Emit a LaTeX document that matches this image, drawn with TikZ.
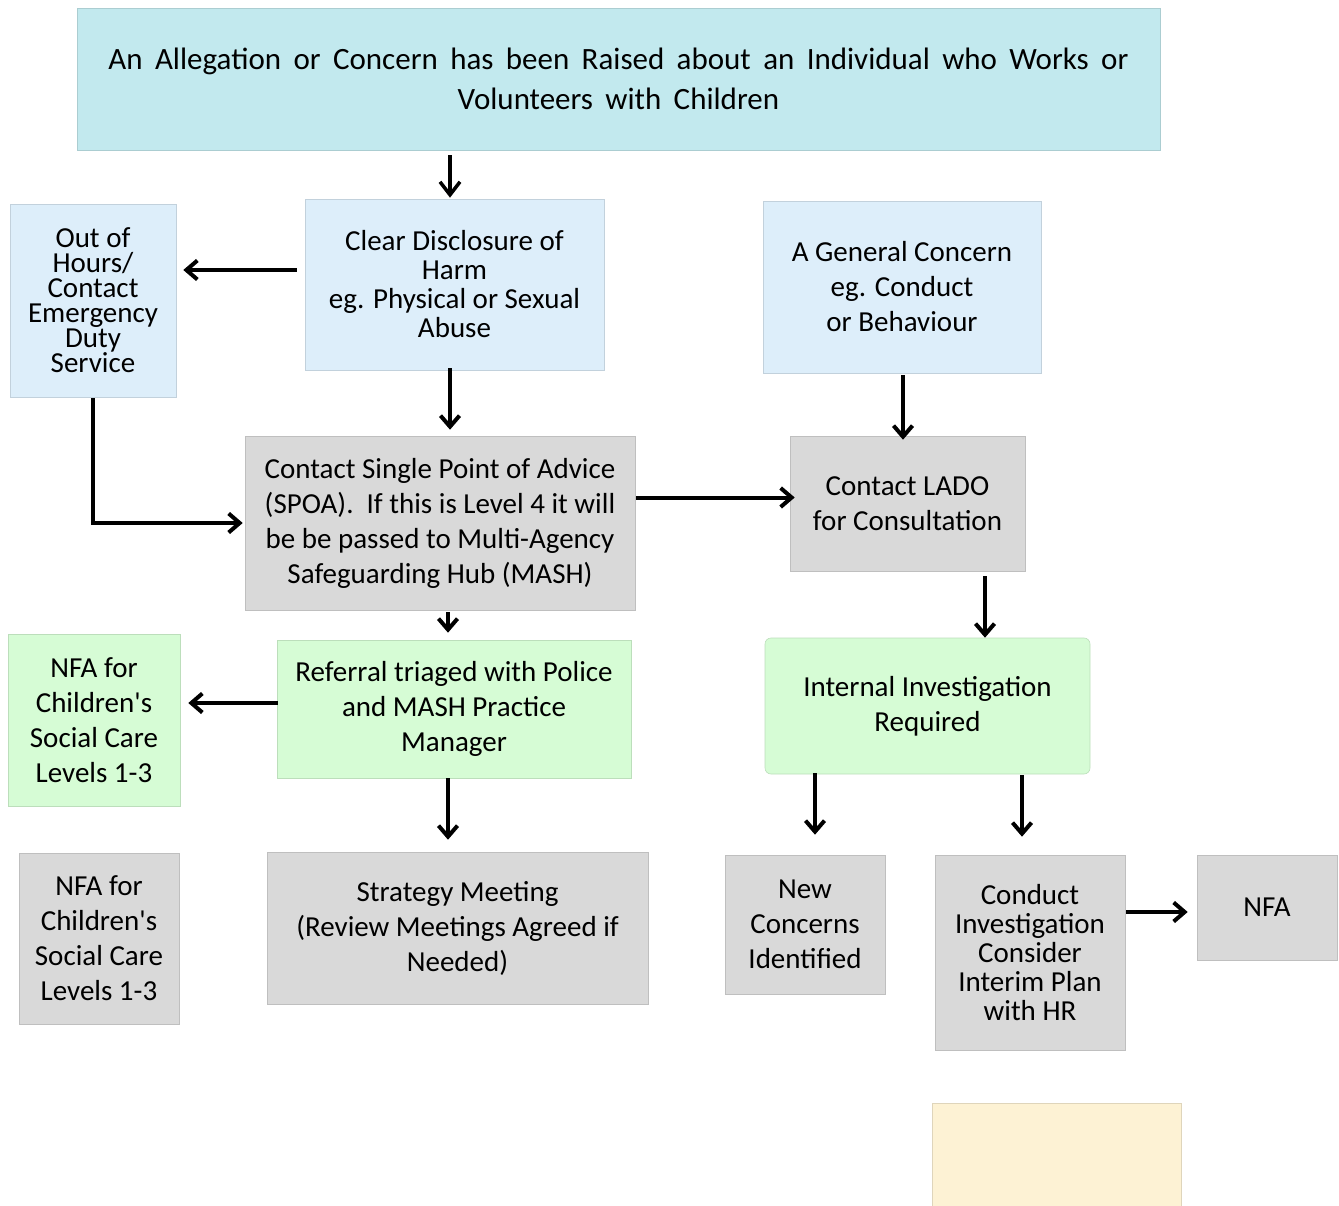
\documentclass[tikz,border=0pt]{standalone}
\usepackage{fontspec}
\setmainfont{Carlito}[Ligatures=TeXOff]
\usetikzlibrary{arrows.meta}
\definecolor{topc}{HTML}{C2E9EE}
\definecolor{bluec}{HTML}{DDEEFA}
\definecolor{grayc}{HTML}{D9D9D9}
\definecolor{greenc}{HTML}{D6FCD5}
\definecolor{yellowc}{HTML}{FDF2D4}
\newcommand\fsA{\fontsize{29}{35}\selectfont}
\newcommand\fsB{\fontsize{29}{29}\selectfont}
\newcommand\fsC{\fontsize{29}{25}\selectfont}
\newcommand\fsT{\fontsize{31}{40}\selectfont\spaceskip=0.40em\relax}
\tikzset{
  box/.style={draw=#1!88!black, fill=#1, line width=0.6pt, inner sep=0pt,
    align=center, font=\fsA, text=black},
  arr/.style={line width=4pt, -{Straight Barb[length=11pt,width=19pt]}},
  arrT/.style={line width=3.5pt, -{Straight Barb[length=13pt,width=20pt]}},
}
\begin{document}
\begin{tikzpicture}[x=1pt,y=-1pt]
\useasboundingbox (0,0) rectangle (1339,1206);
% boxes
\node[box=topc, minimum width=1083pt, minimum height=142pt, font=\fsT] (top) at (618.5,79)
  {An Allegation or Concern has been Raised about an Individual who Works or\\Volunteers with Children};
\node[box=bluec, minimum width=299pt, minimum height=171pt, font=\fsB] (clear) at (454.5,284.5)
  {Clear Disclosure of\\Harm\\eg. Physical or Sexual\\Abuse};
\node[box=bluec, minimum width=166pt, minimum height=193pt, font=\fsC] (ooh) at (93,300.5)
  {Out of\\Hours/\\Contact\\Emergency\\Duty\\Service};
\node[box=bluec, minimum width=278pt, minimum height=172pt] (gen) at (902,287)
  {A General Concern\\eg. Conduct\\or Behaviour};
\node[box=grayc, minimum width=390pt, minimum height=174pt] (spoa) at (440,523)
  {Contact Single Point of Advice\\(SPOA).\ \ If this is Level 4 it will\\be be passed to Multi-Agency\\Safeguarding Hub (MASH)};
\node[box=grayc, minimum width=235pt, minimum height=135pt] (lado) at (907.5,503.5)
  {Contact LADO\\for Consultation};
\node[box=greenc, minimum width=172pt, minimum height=172pt] (nfag) at (94,720)
  {NFA for\\Children's\\Social Care\\Levels 1-3};
\node[box=greenc, minimum width=354pt, minimum height=138pt] (ref) at (454,709)
  {Referral triaged with Police\\and MASH Practice\\Manager};
\node[box=greenc, rounded corners=6pt, minimum width=325pt, minimum height=136pt] (intl) at (927.5,706)
  {Internal Investigation\\Required};
\node[box=grayc, minimum width=160pt, minimum height=171pt] (nfagr) at (99,938.5)
  {NFA for\\Children's\\Social Care\\Levels 1-3};
\node[box=grayc, minimum width=381pt, minimum height=152pt] (strat) at (457.5,928)
  {Strategy Meeting\\(Review Meetings Agreed if\\Needed)};
\node[box=grayc, minimum width=160pt, minimum height=139pt] (newc) at (805,924.5)
  {New\\Concerns\\Identified};
\node[box=grayc, minimum width=190pt, minimum height=195pt, font=\fsB] (cond) at (1030,952.5)
  {Conduct\\Investigation\\Consider\\Interim Plan\\with HR};
\node[box=grayc, minimum width=140pt, minimum height=105pt] (nfa) at (1267,907.5) {NFA};
\node[box=yellowc, minimum width=249pt, minimum height=103pt] (yel) at (1056.5,1154.5) {};
% connectors
\coordinate (a1) at ([xshift=-4.5pt]clear.north);
\draw[arrT, shorten <=5pt, shorten >=1pt] (a1 |- top.south) -- (a1);
\coordinate (a2) at ([yshift=14.5pt]clear.west);
\draw[arr, shorten <=8pt, shorten >=7pt] (a2) -- (a2 -| ooh.east);
\coordinate (a3) at ([xshift=-4.5pt]clear.south);
\draw[arr, shorten <=-2pt, shorten >=6pt] (a3) -- (a3 |- spoa.north);
\coordinate (a4) at ([xshift=1pt]gen.south);
\draw[arr, shorten <=2pt, shorten >=-4pt] (a4) -- (a4 |- lado.north);
\draw[arr, shorten <=1pt, shorten >=2pt] (ooh.south) |- (spoa.west);
\coordinate (a6) at ([yshift=25.5pt]spoa.east);
\draw[arr, shorten <=1pt, shorten >=-5pt] (a6) -- (a6 -| lado.west);
\coordinate (a7) at ([xshift=8pt]spoa.south);
\draw[arr, shorten <=2pt, shorten >=7pt] (a7) -- (a7 |- ref.north);
\coordinate (a8) at ([xshift=77.5pt]lado.south);
\draw[arr, shorten <=5pt] (a8) -- (a8 |- intl.north);
\coordinate (a9) at ([yshift=6pt]ref.west);
\draw[arr, shorten <=-1pt, shorten >=8pt] (a9) -- (a9 -| nfag.east);
\coordinate (a10) at ([xshift=-6pt]ref.south);
\draw[arr, shorten >=12pt] (a10) -- (a10 |- strat.north);
\coordinate (a11) at ([xshift=-112.5pt]intl.south);
\draw[arr, shorten <=-1pt, shorten >=20pt] (a11) -- (a11 |- newc.north);
\coordinate (a12) at ([xshift=94.5pt]intl.south);
\draw[arr, shorten <=1pt, shorten >=18pt] (a12) -- (a12 |- cond.north);
\coordinate (a13) at ([yshift=40.5pt]cond.east);
\draw[arr, shorten <=1pt, shorten >=9pt] (a13) -- (a13 -| nfa.west);
\end{tikzpicture}
\end{document}
